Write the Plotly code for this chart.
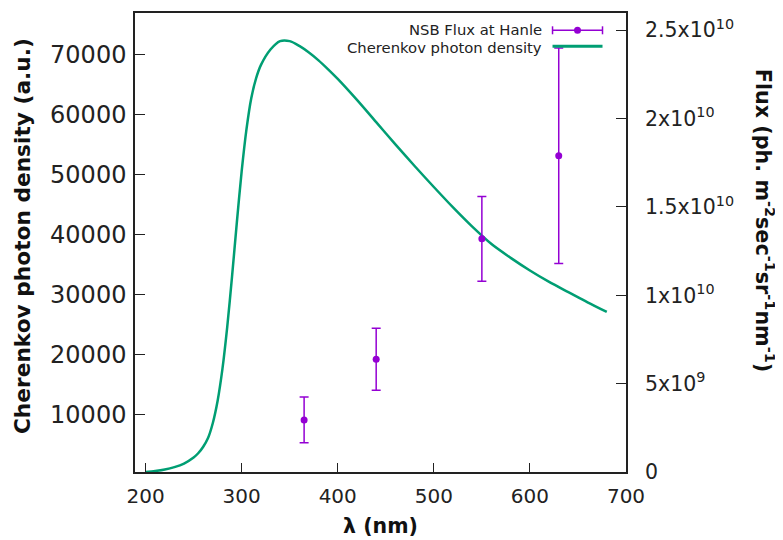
import plotly.graph_objects as go

# Cherenkov photon density (left axis, a.u.)
wl_curve = [200, 210, 220, 230, 240, 250, 255, 260, 265, 270, 275, 280, 285, 290, 295,
            300, 305, 310, 315, 320, 330, 340, 350, 360, 370, 380, 390, 400, 420, 440,
            460, 480, 500, 520, 540, 560, 580, 600, 620, 640, 660, 680]
cherenkov = [450, 600, 850, 1250, 1850, 2850, 3600, 4650, 6100, 8600, 12300, 17600, 24600, 33000, 42000,
             50500, 57500, 62700, 66000, 68200, 70800, 72200, 72200, 71400, 70300, 69000, 67500, 65900, 62400, 58700,
             55000, 51400, 47900, 44500, 41300, 38400, 36100, 34000, 32100, 30400, 28700, 27100]

# NSB flux at Hanle (right axis)
wl_nsb = [365, 440, 550, 630]
nsb_flux = [2.95e9, 6.38e9, 1.32e10, 1.79e10]
nsb_err = [1.3e9, 1.75e9, 2.4e9, 6.1e9]

y1_tickvals = [10000, 20000, 30000, 40000, 50000, 60000, 70000]
y1_ticktext = ["10000", "20000", "30000", "40000", "50000", "60000", "70000"]
y2_tickvals = [0, 5e9, 1e10, 1.5e10, 2e10, 2.5e10]
y2_ticktext = ["0", "5x10<sup>9</sup>", "1x10<sup>10</sup>", "1.5x10<sup>10</sup>",
               "2x10<sup>10</sup>", "2.5x10<sup>10</sup>"]
x_tickvals = [200, 300, 400, 500, 600, 700]

GREEN = "#009e73"
PURPLE = "#9400d3"
FONT = "DejaVu Sans"

fig = go.Figure()
fig.add_trace(go.Scatter(x=wl_curve, y=cherenkov, mode="lines",
                         line=dict(color=GREEN, width=2.5, shape="spline", smoothing=0.8),
                         name="Cherenkov photon density", showlegend=False))
fig.add_trace(go.Scatter(x=wl_nsb, y=nsb_flux, mode="markers", yaxis="y2",
                         marker=dict(color=PURPLE, size=7),
                         error_y=dict(type="data", array=nsb_err, color=PURPLE, thickness=1.5, width=4.5),
                         name="NSB Flux at Hanle", showlegend=False))

# page offset of the figure div (body margin)
OFF = 8
# desired plot-area box in page pixels
L, R, T, B = 135.3, 626.5, 12.7, 471.7
W, H = R - L, B - T

def px(x):
    return (x - L) / W

def py(y):
    return (B - y) / H

# manual gnuplot-style key
fig.add_annotation(x=px(543), y=py(29), xref="paper", yref="paper", text="NSB Flux at Hanle",
                   showarrow=False, xanchor="right", yanchor="middle", borderpad=0,
                   font=dict(family=FONT, size=14.8, color="#222"))
fig.add_annotation(x=px(543), y=py(47), xref="paper", yref="paper", text="Cherenkov photon density",
                   showarrow=False, xanchor="right", yanchor="middle", borderpad=0,
                   font=dict(family=FONT, size=14.8, color="#222"))
fig.add_shape(type="line", xref="paper", yref="paper", x0=px(553), x1=px(603), y0=py(30), y1=py(30),
              line=dict(color=PURPLE, width=1.5))
for xx in (553, 603):
    fig.add_shape(type="line", xref="paper", yref="paper", x0=px(xx), x1=px(xx), y0=py(26), y1=py(34),
                  line=dict(color=PURPLE, width=1.5))
fig.add_shape(type="circle", xref="paper", yref="paper", x0=px(574.5), x1=px(581.5), y0=py(26.5), y1=py(33.5),
              fillcolor=PURPLE, line=dict(color=PURPLE, width=0))
fig.add_shape(type="line", xref="paper", yref="paper", x0=px(553), x1=px(603), y0=py(46), y1=py(46),
              line=dict(color=GREEN, width=3))

# axis titles
fig.add_annotation(x=px(23), y=py(236), xref="paper", yref="paper", text="<b>Cherenkov photon density (a.u.)</b>",
                   showarrow=False, textangle=-90, xanchor="center", yanchor="middle",
                   font=dict(family=FONT, size=21.7, color="#111"))
fig.add_annotation(x=px(765), y=py(220), xref="paper", yref="paper",
                   text="<b>Flux (ph. m<sup>-2</sup>sec<sup>-1</sup>sr<sup>-1</sup>nm<sup>-1</sup>)</b>",
                   showarrow=False, textangle=90, xanchor="center", yanchor="middle",
                   font=dict(family=FONT, size=20.7, color="#111"))

fig.update_layout(
    width=783, height=540,
    margin=dict(l=L - OFF, r=783 - (R - OFF), t=T - OFF, b=540 - (B - OFF), autoexpand=False),
    paper_bgcolor="white", plot_bgcolor="white",
    showlegend=False,
    xaxis=dict(range=[189, 700], tickvals=x_tickvals, ticks="inside", ticklen=9,
               tickcolor="#222", showline=True, linecolor="#222", linewidth=1.5, mirror=True,
               showgrid=False, zeroline=False, tickfont=dict(family=FONT, size=20, color="#222"),
               ticklabelstandoff=5,
               title=dict(text="<b>λ (nm)</b>", font=dict(family=FONT, size=20.5, color="#111"), standoff=12)),
    yaxis=dict(range=[441, 76880], tickvals=y1_tickvals, ticktext=y1_ticktext,
               ticks="inside", ticklen=10, tickcolor="#222", showline=True, linecolor="#222", linewidth=1.5,
               mirror=True, showgrid=False, zeroline=False, tickfont=dict(family=FONT, size=24, color="#222"),
               ticklabelstandoff=2),
    yaxis2=dict(range=[0, 2.598e10], overlaying="y", side="right", tickvals=y2_tickvals, ticktext=y2_ticktext,
                ticks="inside", ticklen=10, tickcolor="#222", showline=False, showgrid=False, zeroline=False,
                tickfont=dict(family=FONT, size=20.5, color="#222"), ticklabelstandoff=18),
)

fig.write_html("out.html")
